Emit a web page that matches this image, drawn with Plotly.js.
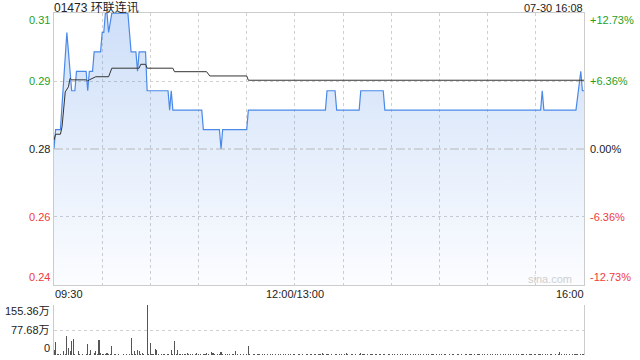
<!DOCTYPE html>
<html>
<head>
<meta charset="utf-8">
<script src="https://cdn.plot.ly/plotly-3.0.1.min.js"></script>
<style>html,body{margin:0;padding:0;background:#fff;}#chart{width:640px;height:360px;}</style>
</head>
<body>
<div id="chart"></div>
<script>
// ---------- data ----------
const day = '2024-07-30 ';
const stockTitle = '01473 环联连讯';
const stampText = '07-30 16:08';
const prevClose = 0.275;

// price (change points of the minute line)
const priceTimes = ['09:30','09:31','09:34','09:38','09:41','09:43','09:44','09:50','09:51','09:52',
  '09:54','09:55','09:59','10:00','10:01','10:02','10:03','10:04','10:06','10:16',
  '10:18','10:21','10:22','10:23','10:27','10:28','10:41','10:42','10:43','10:44',
  '11:02','11:03','11:13','11:14','11:15','11:30','11:31','13:19','13:20','13:25',
  '13:26','13:40','13:41','13:55','13:56','15:33','15:34','15:35','15:55','15:58',
  '15:59','16:00'];
const priceValues = [0.275,0.280,0.280,0.305,0.290,0.290,0.295,0.295,0.290,0.295,
  0.295,0.300,0.300,0.305,0.305,0.310,0.310,0.305,0.310,0.310,
  0.300,0.300,0.295,0.300,0.300,0.290,0.290,0.285,0.290,0.285,
  0.285,0.280,0.280,0.275,0.280,0.280,0.285,0.285,0.290,0.290,
  0.285,0.285,0.290,0.290,0.285,0.285,0.290,0.285,0.285,0.295,
  0.290,0.290];

// average price line
const avgTimes = ['09:30','09:31','09:34','09:35','09:37','09:39','09:40','09:41','09:50','09:51',
  '09:52','09:56','10:04','10:06','10:23','10:24','10:27','10:28','10:44','10:45',
  '11:05','11:07','11:30','11:31','16:00'];
const avgValues = [0.2773,0.2788,0.2788,0.2807,0.2897,0.2910,0.2932,0.2928,0.2928,0.2925,
  0.2928,0.2936,0.2936,0.2958,0.2958,0.2968,0.2968,0.2958,0.2958,0.2949,
  0.2949,0.2938,0.2938,0.2927,0.2927];

// volume per minute (万股): 09:30-11:59 then 13:00-16:00
const volMorningStart = '09:30';
const volAfternoonStart = '13:00';
const volMorningCount = 150;
const volumes = [
  15,39,2,3,2,1,12,2,60,21,12,45,51,2,1,12,2,1,2,1,2,35,2,14,1,7,12,2,48,6,
  2,4,3,5,4,3,27,1,2,1,2,1,1,2,1,2,1,2,54,2,12,3,15,12,2,5,2,1,155.36,2,
  38,3,2,19,15,2,1,2,3,2,1,2,1,17,2,43,2,14,3,2,4,3,2,5,2,3,2,1,2,6,
  2,3,1,2,3,6,2,1,8,5,2,1,3,2,10,2,1,2,3,2,1,2,3,13,2,1,2,1,2,1,
  2,27,2,1,2,2,1,2,2,1,2,2,1,2,1,2,2,1,2,1,2,2,1,2,2,1,2,2,1,2,
  2,1,2,2,1,2,1,2,2,1,2,1,2,2,1,2,2,5,2,1,2,2,1,2,1,2,2,1,2,2,
  1,2,6,2,1,2,2,1,2,1,2,7,2,2,1,2,1,2,2,1,2,2,1,2,1,2,2,1,2,2,
  1,2,2,1,2,1,2,2,1,2,2,1,2,1,2,2,1,2,2,1,2,1,2,2,1,2,2,1,2,1,
  2,2,1,2,2,1,2,1,2,2,1,2,2,1,2,1,2,2,1,2,2,1,2,1,2,2,1,2,2,1,
  2,1,2,2,1,2,2,1,2,1,2,2,1,2,2,1,2,1,2,2,1,2,2,1,2,1,2,2,1,2,
  2,1,2,3,2,1,2,2,1,2,2,1,2,1,2,8,2,1,2,2,1,2,1,2,2,3,2,1,2,3,2];

// axis labels
const pctLevels = [0.1273, 0.0636, 0, -0.0636, -0.1273];
const priceLabels = ['0.31','0.29','0.28','0.26','0.24'];
const pctLabels = ['+12.73%','+6.36%','0.00%','-6.36%','-12.73%'];
const gridTimes = ['09:30','10:00','10:30','11:00','11:30','13:00','13:30','14:00','14:30','15:00','15:30','16:00'];
const xTickTimes = ['09:30','13:00','16:00'];
const xTickLabels = ['09:30','12:00/13:00','16:00'];
const volTickValues = [155.36, 77.68, 0];
const volTickLabels = ['155.36万','77.68万','0'];

// ---------- build ----------
const UP = '#1fa01f', DOWN = '#ef3b3b', FLAT = '#222';
const FONT = 'Arial, "Liberation Sans", "Noto Sans CJK SC", sans-serif';
const t = s => day + s;
function minuteSeries(start, n) {
  const out = [];
  const [h, m] = start.split(':').map(Number);
  for (let i = 0; i < n; i++) {
    const tot = h * 60 + m + i;
    out.push(day + String(Math.floor(tot / 60)).padStart(2, '0') + ':' + String(tot % 60).padStart(2, '0'));
  }
  return out;
}
const volTimes = minuteSeries(volMorningStart, volMorningCount)
  .concat(minuteSeries(volAfternoonStart, volumes.length - volMorningCount));

const levels = pctLevels.map(p => prevClose * (1 + p));
const yMin = levels[levels.length - 1], yMax = levels[0];

const traces = [
  {
    x: priceTimes.map(t), y: priceValues, type: 'scatter', mode: 'lines',
    line: {color: '#4a89e8', width: 1.2},
    fill: 'tozeroy', fillcolor: 'rgba(74,137,232,0.15)',
    fillgradient: {type: 'vertical', start: yMin, stop: yMax,
      colorscale: [[0, 'rgba(74,137,232,0.02)'], [1, 'rgba(74,137,232,0.27)']]},
    xaxis: 'x', yaxis: 'y', hoverinfo: 'skip'
  },
  {
    x: avgTimes.map(t), y: avgValues, type: 'scatter', mode: 'lines',
    line: {color: '#333', width: 1}, xaxis: 'x', yaxis: 'y', hoverinfo: 'skip'
  },
  {
    x: volTimes, y: volumes, type: 'bar', marker: {color: '#555', line: {width: 0}},
    width: 40000, xaxis: 'x2', yaxis: 'y2', hoverinfo: 'skip'
  }
];

const priceBottom = 70 / 342, volTop = 50 / 342;
const breaks = [{pattern: 'hour', bounds: [12, 13]}];
const anns = [];
const lblFont = (c) => ({family: FONT, size: 11, color: c});
levels.forEach((v, i) => {
  const c = pctLevels[i] > 0 ? UP : (pctLevels[i] < 0 ? DOWN : FLAT);
  const ys = i === 0 ? -7 : (i === levels.length - 1 ? 8 : 0);
  anns.push({xref: 'paper', yref: 'y', x: 0, y: v, xanchor: 'right', yanchor: 'middle', xshift: -2, yshift: ys,
    text: priceLabels[i], showarrow: false, font: lblFont(c)});
  anns.push({xref: 'paper', yref: 'y', x: 1, y: v, xanchor: 'left', yanchor: 'middle', xshift: 4, yshift: ys,
    text: pctLabels[i], showarrow: false, font: lblFont(c)});
});
xTickTimes.forEach((s, i) => {
  anns.push({xref: 'x', yref: 'paper', x: t(s), y: priceBottom, yanchor: 'top', yshift: -1,
    xanchor: i === 0 ? 'left' : (i === xTickTimes.length - 1 ? 'right' : 'center'),
    xshift: i === 0 ? -1 : (i === xTickTimes.length - 1 ? 2 : 0),
    text: xTickLabels[i], showarrow: false, font: lblFont('#222')});
});
volTickValues.forEach((v, i) => {
  const ys = i === 0 ? -6 : (i === volTickValues.length - 1 ? 7 : 0);
  anns.push({xref: 'paper', yref: 'y2', x: 0, y: v, xanchor: 'right', yanchor: 'middle', xshift: -2, yshift: ys,
    text: volTickLabels[i], showarrow: false, font: lblFont('#222')});
});
anns.push({xref: 'paper', yref: 'paper', x: 0, y: 1, xanchor: 'left', yanchor: 'middle', xshift: -2, yshift: 6,
  text: stockTitle, showarrow: false, font: {family: FONT, size: 12, color: '#222'}});
anns.push({xref: 'paper', yref: 'paper', x: 1, y: 1, xanchor: 'right', yanchor: 'middle', xshift: 1, yshift: 5,
  text: stampText, showarrow: false, font: lblFont('#222')});
anns.push({xref: 'paper', yref: 'y', x: 1, y: yMin, xanchor: 'right', yanchor: 'middle', xshift: -10, yshift: 6,
  text: 'sina.com', showarrow: false, font: {family: FONT, size: 11, color: '#cfcfcf'}});

const layout = {
  width: 640, height: 360,
  margin: {l: 54, r: 56, t: 13, b: 5},
  paper_bgcolor: '#fff', plot_bgcolor: '#fff',
  showlegend: false, bargap: 0,
  font: {family: FONT, size: 11, color: '#222'},
  xaxis: {type: 'date', domain: [0, 1], anchor: 'y', range: [t('09:30'), t('16:00')], rangebreaks: breaks,
    tickvals: gridTimes.map(t), showticklabels: false, ticks: '',
    showgrid: true, gridcolor: '#d0d0d0', griddash: 'dot', gridwidth: 1,
    showline: true, mirror: true, linecolor: '#cccccc', linewidth: 1, zeroline: false, fixedrange: true},
  xaxis2: {type: 'date', domain: [0, 1], anchor: 'y2', range: [t('09:30'), t('16:00')], rangebreaks: breaks,
    showticklabels: false, ticks: '', showgrid: false, showline: false, zeroline: false, fixedrange: true},
  yaxis: {domain: [priceBottom, 1], anchor: 'x', range: [yMin, yMax],
    tickvals: levels.filter((v, i) => pctLevels[i] !== 0), showticklabels: false, ticks: '',
    showgrid: true, gridcolor: '#d0d0d0', griddash: 'dot', gridwidth: 1,
    showline: true, mirror: true, linecolor: '#cccccc', linewidth: 1, zeroline: false, fixedrange: true},
  yaxis2: {domain: [0, volTop], anchor: 'x2', range: [0, volTickValues[0]],
    tickvals: volTickValues.slice(0, 2), showticklabels: false, ticks: '',
    showgrid: true, gridcolor: '#d0d0d0', griddash: 'dot', gridwidth: 1,
    showline: true, mirror: true, linecolor: '#cccccc', linewidth: 1, zeroline: false, fixedrange: true},
  shapes: [{type: 'line', xref: 'paper', yref: 'y', x0: 0, x1: 1, y0: prevClose, y1: prevClose,
    line: {color: '#b8b8b8', width: 1, dash: 'dashdot'}}],
  annotations: anns
};

Plotly.newPlot('chart', traces, layout, {staticPlot: true, displayModeBar: false});
</script>
</body>
</html>
